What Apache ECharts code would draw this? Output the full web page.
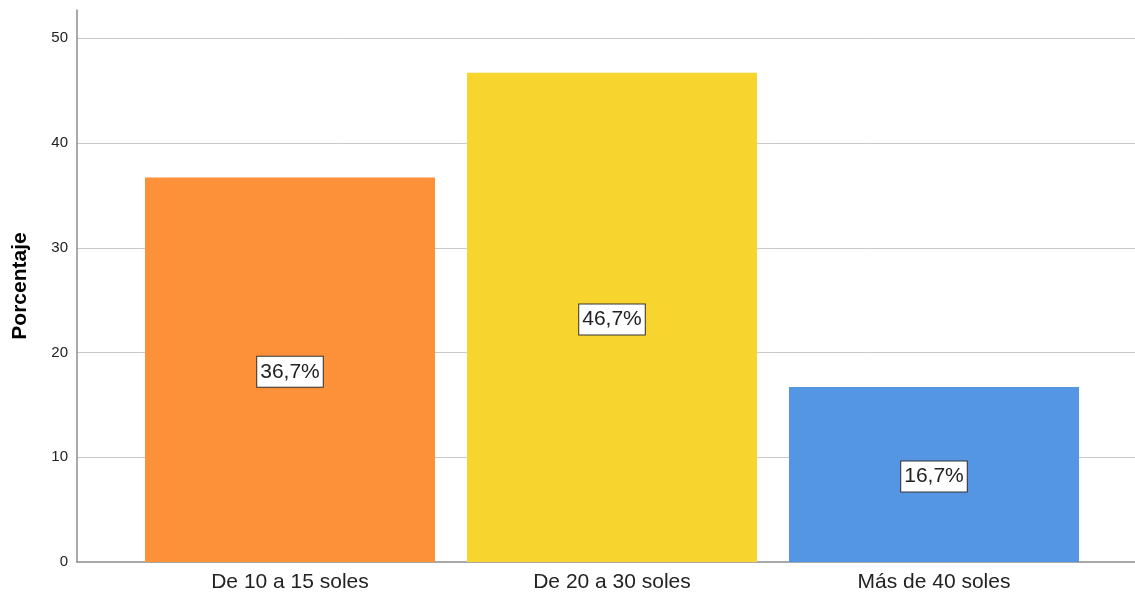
<!DOCTYPE html>
<html>
<head>
<meta charset="utf-8">
<script src="https://cdn.jsdelivr.net/npm/echarts@6/dist/echarts.min.js"></script>
<style>
html,body{margin:0;padding:0;background:#fff;}
#chart{width:1135px;height:594px;}
</style>
</head>
<body>
<div id="chart"></div>
<script>
var categories = ['De 10 a 15 soles', 'De 20 a 30 soles', 'Más de 40 soles'];
var percentages = [36.7, 46.7, 16.7];
var barColors = ['#FD913A', '#F8D42E', '#5596E4'];
var yTicks = [0, 10, 20, 30, 40, 50];
var yAxisTitle = 'Porcentaje';

var chart = echarts.init(document.getElementById('chart'), null, {renderer: 'canvas'});
var FONT = '"Liberation Sans", Arial, sans-serif';
var yMax = 52.7;

var option = {
  animation: false,
  backgroundColor: '#ffffff',
  grid: [
    {left: 77, right: 0, top: 10, bottom: 32},
    {left: 129, right: 40, top: 10, bottom: 32}
  ],
  xAxis: [
    {
      gridIndex: 0, type: 'category', data: [''],
      axisLine: {show: true, lineStyle: {color: '#8c8c8c', width: 1.5}},
      axisTick: {show: false}, axisLabel: {show: false}, splitLine: {show: false}
    },
    {
      gridIndex: 1, type: 'category', data: categories,
      axisLine: {show: false}, axisTick: {show: false},
      axisLabel: {color: '#222', fontSize: 21, fontFamily: FONT, margin: 10}
    }
  ],
  yAxis: [
    {
      gridIndex: 0, type: 'value', min: 0, max: yMax, interval: 10,
      name: yAxisTitle, nameLocation: 'middle', nameGap: 46,
      nameTextStyle: {fontSize: 21, fontWeight: 'bold', color: '#000', fontFamily: FONT},
      axisLine: {show: true, lineStyle: {color: '#8c8c8c', width: 1.5}},
      axisTick: {show: false},
      axisLabel: {
        color: '#222', fontSize: 15, fontFamily: FONT, margin: 9,
        showMaxLabel: false,
        formatter: function (v) { return yTicks.indexOf(v) >= 0 ? String(v) : ''; }
      },
      splitLine: {show: true, showMaxLine: false, showMinLine: false, lineStyle: {color: '#c8c8c8', width: 1}}
    },
    {
      gridIndex: 1, type: 'value', min: 0, max: yMax, interval: 10,
      show: false, splitLine: {show: false}
    }
  ],
  series: [{
    type: 'bar',
    xAxisIndex: 1, yAxisIndex: 1,
    barWidth: 290,
    data: percentages.map(function (v, i) {
      return {value: v, itemStyle: {color: barColors[i]}};
    }),
    label: {
      show: true, position: 'inside', offset: [0, 2],
      formatter: function (p) { return p.value.toFixed(1).replace('.', ',') + '%'; },
      color: '#222', fontSize: 21, fontFamily: FONT, lineHeight: 22,
      backgroundColor: '#ffffff', borderColor: '#333', borderWidth: 1,
      padding: [4, 3]
    }
  }]
};
chart.setOption(option);
</script>
</body>
</html>
